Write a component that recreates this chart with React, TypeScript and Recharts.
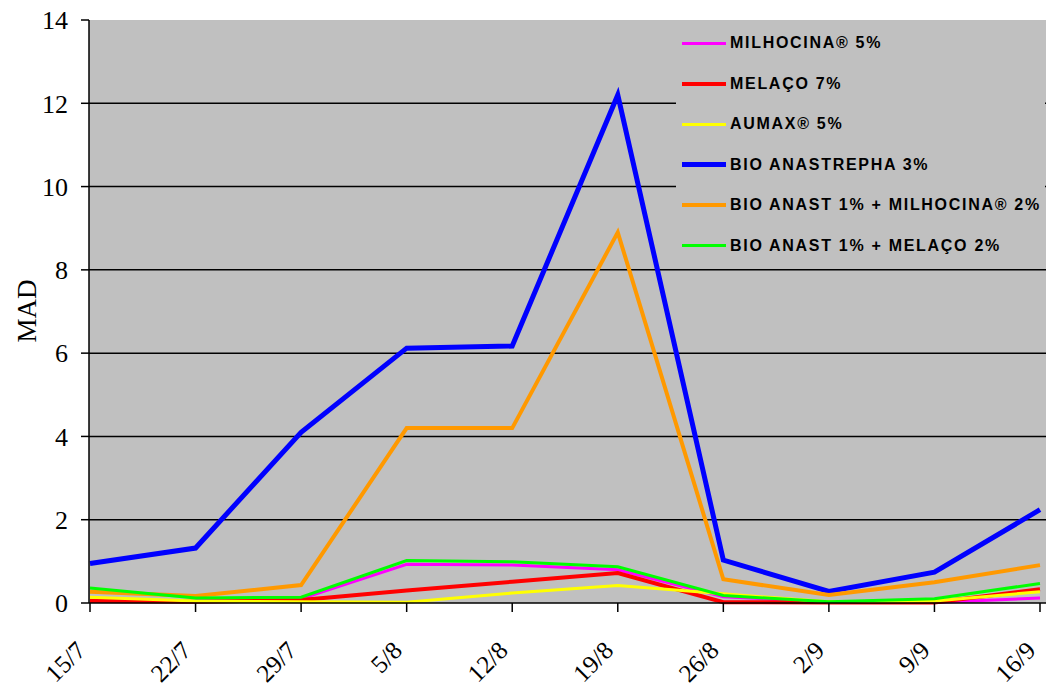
import React from "react";
import { LineChart, Line, XAxis, YAxis, CartesianGrid } from "recharts";

const dates = ["15/7", "22/7", "29/7", "5/8", "12/8", "19/8", "26/8", "2/9", "9/9", "16/9"];
const yTicks = [0, 2, 4, 6, 8, 10, 12, 14];

const milhocina = [0.05, 0.04, 0.1, 0.93, 0.91, 0.8, 0.15, 0.02, 0.01, 0.12];
const melaco = [0.05, 0.03, 0.07, 0.3, 0.51, 0.72, 0.02, 0.01, 0.01, 0.33];
const aumax = [0.14, 0.05, 0.03, 0.02, 0.24, 0.42, 0.22, 0.03, 0.05, 0.27];
const bioAnastrepha = [0.95, 1.32, 4.1, 6.12, 6.17, 12.2, 1.03, 0.28, 0.74, 2.24];
const bioMilhocina = [0.27, 0.17, 0.43, 4.2, 4.2, 8.9, 0.57, 0.19, 0.5, 0.91];
const bioMelaco = [0.36, 0.12, 0.14, 1.02, 0.99, 0.87, 0.18, 0.03, 0.1, 0.47];

const series = [
  { key: "milhocina", name: "MILHOCINA® 5%", color: "#ff00ff", width: 3, values: milhocina },
  { key: "melaco", name: "MELAÇO 7%", color: "#ff0000", width: 4, values: melaco },
  { key: "aumax", name: "AUMAX® 5%", color: "#ffff00", width: 3, values: aumax },
  { key: "bioAnastrepha", name: "BIO ANASTREPHA 3%", color: "#0000ff", width: 5, values: bioAnastrepha },
  { key: "bioMilhocina", name: "BIO ANAST 1% + MILHOCINA® 2%", color: "#ff9900", width: 4, values: bioMilhocina },
  { key: "bioMelaco", name: "BIO ANAST 1% + MELAÇO 2%", color: "#00ff00", width: 3, values: bioMelaco },
];

const data = dates.map((d, i) => {
  const row: any = { date: d };
  series.forEach((s) => (row[s.key] = s.values[i]));
  return row;
});

const serif = "'Times New Roman', 'Liberation Serif', serif";

// dates are drawn slanted, ending just left of their tick
const DateTick = (props: any) => {
  const { x, y, payload } = props;
  const tx = x - 3;
  const ty = y + 38;
  return (
    <text
      x={tx}
      y={ty}
      transform={`rotate(-45 ${tx} ${ty})`}
      textAnchor="end"
      fontFamily={serif}
      fontSize={25}
      fill="#000"
    >
      {payload.value}
    </text>
  );
};

export default function App() {
  return (
    <div style={{ position: "absolute", left: 0, top: 0, width: 1049, height: 693, background: "#fff" }}>
      <LineChart
        width={1049}
        height={693}
        data={data}
        margin={{ top: 20, right: 3, left: 0, bottom: 0 }}
      >
        <CartesianGrid
          vertical={false}
          horizontalValues={[2, 4, 6, 8, 10, 12]}
          stroke="#000"
          strokeWidth={1.5}
          fill="#c0c0c0"
          fillOpacity={1}
        />
        <XAxis
          dataKey="date"
          interval={0}
          height={90}
          padding={{ left: 1, right: 6 }}
          axisLine={{ stroke: "#000", strokeWidth: 1.5 }}
          tickLine={{ stroke: "#000", strokeWidth: 1.5 }}
          tickSize={9}
          tick={<DateTick />}
        />
        <YAxis
          domain={[0, 14]}
          ticks={yTicks}
          interval={0}
          width={89}
          axisLine={{ stroke: "#000", strokeWidth: 1.5 }}
          tickLine={{ stroke: "#000", strokeWidth: 1.5 }}
          tickSize={8}
          tickMargin={13}
          tick={{ fontFamily: serif, fontSize: 26, fill: "#000" }}
          label={{
            content: () => (
              <text
                x={36}
                y={311}
                transform="rotate(-90 36 311)"
                textAnchor="middle"
                fontFamily={serif}
                fontSize={27}
                fill="#000"
              >
                MAD
              </text>
            ),
          }}
        />
        {series.map((s) => (
          <Line
            key={s.key}
            type="linear"
            dataKey={s.key}
            name={s.name}
            stroke={s.color}
            strokeWidth={s.width}
            dot={false}
            activeDot={false}
            isAnimationActive={false}
          />
        ))}
      </LineChart>
      {/* legend box sits over the grid in the upper right */}
      <div
        style={{
          position: "absolute",
          left: 676,
          top: 22,
          width: 369,
          height: 243,
          background: "#c0c0c0",
          fontFamily: "Arial, 'Liberation Sans', sans-serif",
          fontWeight: 700,
          fontSize: 16,
          color: "#000",
        }}
      >
        {series.map((s, i) => (
          <div
            key={s.key}
            style={{ position: "absolute", left: 6, top: 12 + i * 40.5, display: "flex", alignItems: "center", whiteSpace: "nowrap" }}
          >
            <span style={{ display: "inline-block", width: 44, height: s.width, background: s.color, marginRight: 4 }} />
            <span style={{ letterSpacing: 1.7 }}>{s.name}</span>
          </div>
        ))}
      </div>
    </div>
  );
}
